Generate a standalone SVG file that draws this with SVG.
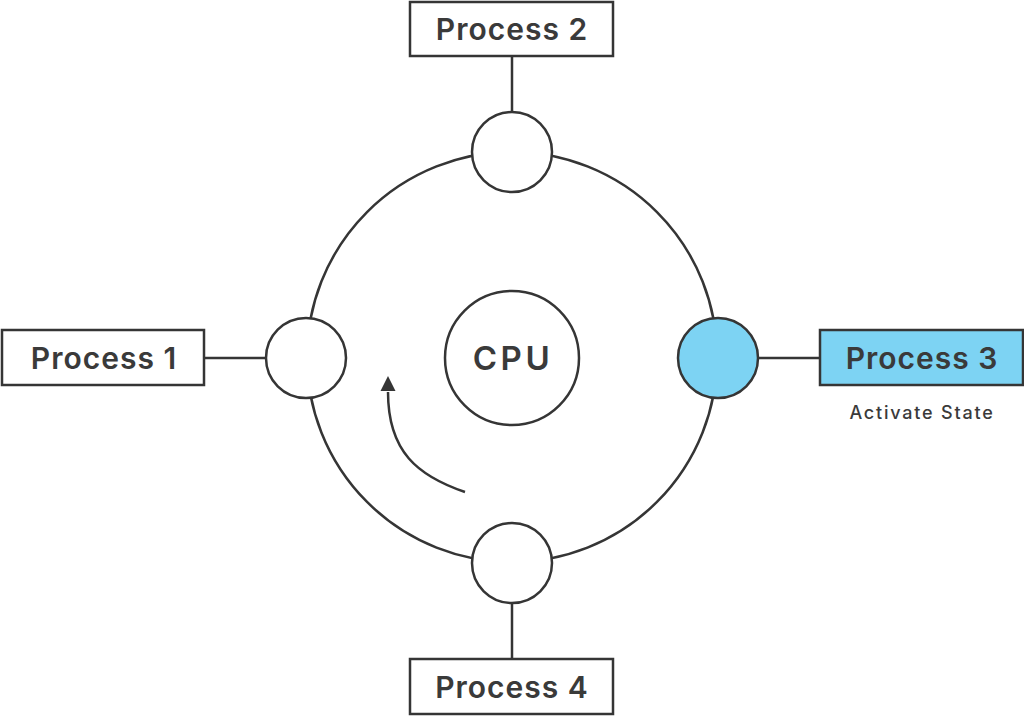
<svg xmlns="http://www.w3.org/2000/svg" width="1024" height="716" viewBox="0 0 1024 716">
<style>
.ln{fill:none;stroke:#353535;stroke-width:2.5}
.nd{fill:#fff;stroke:#353535;stroke-width:2.5}
.act{fill:#7dd3f3;stroke:#353535;stroke-width:2.5}
.lbl{font-family:Inter,"Noto Sans",sans-serif;font-weight:600;font-size:30px;letter-spacing:1px;fill:#3a3a3a;text-anchor:middle}
.cpu{font-size:33px;letter-spacing:3.5px}
.sm{font-family:Inter,"Noto Sans",sans-serif;font-weight:500;font-size:18px;letter-spacing:1.8px;fill:#3a3a3a;text-anchor:middle}
</style>
<rect width="1024" height="716" fill="#fff"/>
<g id="connectors">
<circle class="ln" cx="512" cy="357" r="205"/>
<line class="ln" x1="512" y1="56" x2="512" y2="112"/>
<line class="ln" x1="512" y1="603" x2="512" y2="659"/>
<line class="ln" x1="204" y1="358" x2="266" y2="358"/>
<line class="ln" x1="758" y1="358" x2="820" y2="358"/>
<path class="ln" d="M465,492 C418,476 388,452 388,392"/>
<path d="M380.5,391 L388,376 L395.5,391 z" fill="#353535"/>
</g>
<g id="cpu">
<circle class="nd" cx="512" cy="358" r="67"/>
<text class="lbl cpu" x="513" y="370">CPU</text>
</g>
<g id="slot-top"><circle class="nd" cx="512" cy="152" r="40"/></g>
<g id="slot-bottom"><circle class="nd" cx="512" cy="563" r="40"/></g>
<g id="slot-left"><circle class="nd" cx="306" cy="358" r="40"/></g>
<g id="slot-right"><circle class="act" cx="718" cy="358" r="40"/></g>
<g id="process1">
<rect class="nd" x="2" y="330" width="202" height="55"/>
<text class="lbl" x="104" y="369">Process 1</text>
</g>
<g id="process2">
<rect class="nd" x="410" y="2" width="203" height="54"/>
<text class="lbl" x="512" y="40">Process 2</text>
</g>
<g id="process3">
<rect class="act" x="820" y="330" width="203" height="55"/>
<text class="lbl" x="922" y="369">Process 3</text>
<text class="sm" x="922" y="419">Activate State</text>
</g>
<g id="process4">
<rect class="nd" x="410" y="659" width="203" height="55"/>
<text class="lbl" x="512" y="698">Process 4</text>
</g>
</svg>
